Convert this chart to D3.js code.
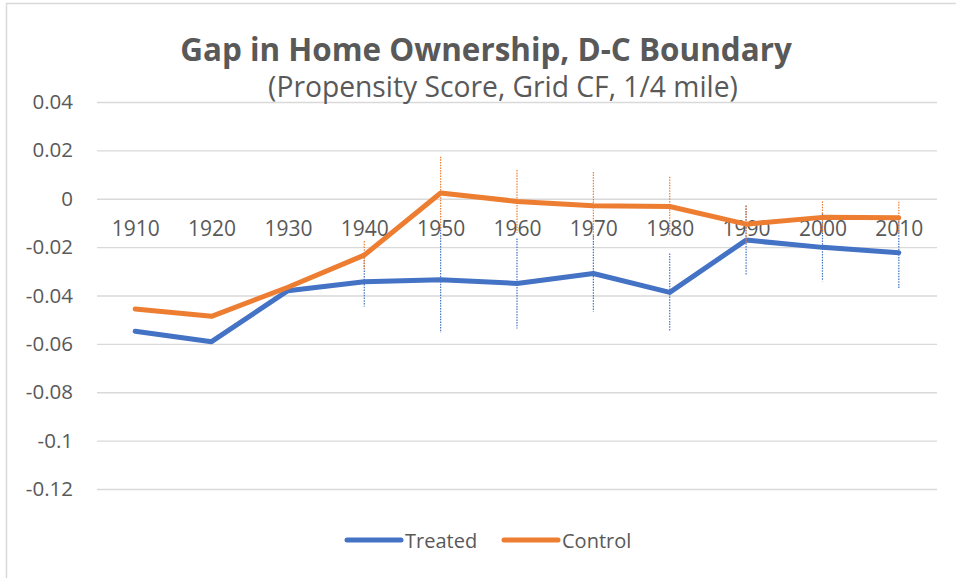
<!DOCTYPE html>
<html>
<head>
<meta charset="utf-8">
<script src="https://cdn.jsdelivr.net/npm/d3@7"></script>
<style>
  body { margin: 0; background: #fff; }
  text { font-family: "Open Sans", "Noto Sans", sans-serif; fill: #595959; }
</style>
</head>
<body>
<svg id="chart"></svg>
<script>
// data
var years = ["1910", "1920", "1930", "1940", "1950", "1960", "1970", "1980", "1990", "2000", "2010"];
var treated = [-0.0548, -0.0591, -0.0380, -0.0343, -0.0335, -0.0350, -0.0309, -0.0387, -0.0171, -0.0201, -0.0223];
var control = [-0.0456, -0.0486, -0.0366, -0.0233, 0.0024, -0.0011, -0.0029, -0.0032, -0.0105, -0.0077, -0.0079];
// half-width of the dotted error bars (null = none shown)
var treatedErr = [null, null, null, 0.0102, 0.0218, 0.0186, 0.0157, 0.0161, 0.0143, 0.0140, 0.0150];
var controlErr = [null, null, null, 0.0058, 0.0150, 0.0130, 0.0140, 0.0123, 0.0076, 0.0066, 0.0067];
var yTicks = [0.04, 0.02, 0, -0.02, -0.04, -0.06, -0.08, -0.1, -0.12];

var W = 956, H = 578;
var svg = d3.select("#chart").attr("width", W).attr("height", H);

// chart frame
svg.append("rect")
    .attr("x", 6.5).attr("y", 3.5)
    .attr("width", W + 10).attr("height", H + 10)
    .attr("fill", "#fff").attr("stroke", "#d9d9d9").attr("stroke-width", 1.5);

var x = d3.scalePoint().domain(years).range([97, 937]).padding(0.5);
var y = d3.scaleLinear().domain([-0.12, 0.04]).range([489, 102]);

// gridlines + value labels
var yAxis = d3.axisLeft(y).tickValues(yTicks).tickSize(-(937 - 97)).tickPadding(24)
    .tickFormat(function(d) { return d === 0 ? "0" : String(+d.toFixed(2)); });
var gy = svg.append("g").attr("transform", "translate(97,0)").call(yAxis);
gy.select(".domain").remove();
gy.selectAll(".tick line").attr("stroke", "#d9d9d9").attr("stroke-width", 1.3);
gy.selectAll(".tick text").attr("font-size", 20.5).style("fill", "#595959")
    .attr("font-family", "Open Sans, Noto Sans, sans-serif");

// category labels sit just under the zero line
var xAxis = d3.axisBottom(x).tickSize(0).tickPadding(31);
var gx = svg.append("g").attr("transform", "translate(0," + y(0) + ")").call(xAxis);
gx.select(".domain").remove();
gx.selectAll(".tick text").attr("font-size", 21).attr("dy", "0.32em").style("fill", "#595959")
    .attr("font-family", "Open Sans, Noto Sans, sans-serif");

var line = d3.line()
    .x(function(d, i) { return x(years[i]); })
    .y(function(d) { return y(d); });

function drawSeries(vals, errs, color) {
    var bars = years.map(function(yr, i) { return {yr: yr, v: vals[i], e: errs[i]}; })
        .filter(function(d) { return d.e != null; });
    svg.append("g").selectAll("line").data(bars).enter().append("line")
        .attr("x1", function(d) { return x(d.yr); })
        .attr("x2", function(d) { return x(d.yr); })
        .attr("y1", function(d) { return y(d.v + d.e); })
        .attr("y2", function(d) { return y(d.v - d.e); })
        .attr("stroke", color).attr("stroke-width", 1.2)
        .attr("stroke-dasharray", "1.5,1.2");
    svg.append("path").datum(vals)
        .attr("d", line)
        .attr("fill", "none").attr("stroke", color)
        .attr("stroke-width", 5)
        .attr("stroke-linejoin", "round").attr("stroke-linecap", "round");
}

drawSeries(treated, treatedErr, "#4472c4");
drawSeries(control, controlErr, "#ed7d31");

// titles, fitted to the width they take in the picture
function fitText(sel, target) {
    var w = sel.node().getComputedTextLength();
    var fs = parseFloat(sel.attr("font-size"));
    sel.attr("font-size", fs * target / w);
}
var title = svg.append("text")
    .attr("x", 486).attr("y", 61).attr("text-anchor", "middle")
    .attr("font-size", 28).attr("font-weight", "bold")
    .text("Gap in Home Ownership, D-C Boundary");
fitText(title, 612);
var sub = svg.append("text")
    .attr("x", 503).attr("y", 97).attr("text-anchor", "middle")
    .attr("font-size", 24)
    .text("(Propensity Score, Grid CF, 1/4 mile)");
fitText(sub, 470);

// legend
var legendItems = [
    {name: "Treated", color: "#4472c4", x: 347},
    {name: "Control", color: "#ed7d31", x: 504}
];
var lg = svg.append("g").selectAll("g").data(legendItems).enter().append("g")
    .attr("transform", function(d) { return "translate(" + d.x + ",540)"; });
lg.append("line").attr("x1", 0).attr("x2", 54).attr("y1", 0).attr("y2", 0)
    .attr("stroke", function(d) { return d.color; })
    .attr("stroke-width", 5).attr("stroke-linecap", "round");
lg.append("text").attr("x", 58).attr("y", 7.5)
    .attr("font-size", 20)
    .text(function(d) { return d.name; });
</script>
</body>
</html>
